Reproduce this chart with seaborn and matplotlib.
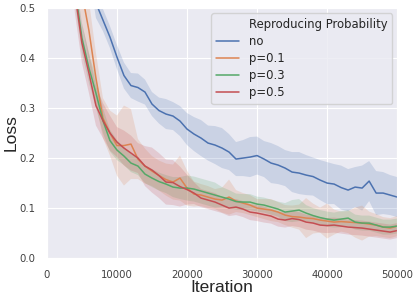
import matplotlib
matplotlib.use("Agg")
import matplotlib.pyplot as plt
from matplotlib.lines import Line2D
import seaborn as sns
import numpy as np
import pandas as pd

# iteration grid (every 1000 steps)
iterations = list(range(0, 51000, 1000))

labels = ["no", "p=0.1", "p=0.3", "p=0.5"]

loss_no = [1.30, 1.15, 1.02, 0.90, 0.79, 0.69, 0.60, 0.51, 0.476, 0.442,
           0.402, 0.365, 0.345, 0.341, 0.332, 0.308, 0.295, 0.288, 0.284, 0.274,
           0.258, 0.248, 0.240, 0.230, 0.226, 0.220, 0.212, 0.198, 0.200, 0.202,
           0.205, 0.198, 0.190, 0.186, 0.180, 0.172, 0.170, 0.166, 0.163, 0.156,
           0.150, 0.148, 0.141, 0.136, 0.142, 0.140, 0.154, 0.130, 0.130, 0.126,
           0.122]
loss_p01 = [1.40, 1.20, 1.00, 0.80, 0.64, 0.53, 0.455, 0.36, 0.28, 0.25,
            0.225, 0.225, 0.228, 0.198, 0.184, 0.174, 0.165, 0.157, 0.152, 0.160,
            0.140, 0.128, 0.126, 0.122, 0.118, 0.116, 0.122, 0.114, 0.110, 0.106,
            0.100, 0.098, 0.096, 0.092, 0.086, 0.083, 0.082, 0.080, 0.079, 0.076,
            0.074, 0.072, 0.073, 0.072, 0.071, 0.070, 0.068, 0.066, 0.062, 0.060,
            0.064]
loss_p03 = [1.30, 1.10, 0.90, 0.70, 0.54, 0.44, 0.38, 0.33, 0.275, 0.235,
            0.216, 0.204, 0.190, 0.184, 0.168, 0.160, 0.153, 0.148, 0.142, 0.140,
            0.140, 0.138, 0.134, 0.130, 0.126, 0.122, 0.118, 0.113, 0.112, 0.112,
            0.108, 0.106, 0.102, 0.098, 0.092, 0.094, 0.096, 0.090, 0.085, 0.081,
            0.078, 0.076, 0.078, 0.080, 0.072, 0.070, 0.070, 0.066, 0.062, 0.062,
            0.064]
loss_p05 = [1.30, 1.10, 0.90, 0.70, 0.53, 0.43, 0.37, 0.305, 0.275, 0.250,
            0.232, 0.220, 0.210, 0.200, 0.184, 0.176, 0.165, 0.152, 0.151, 0.143,
            0.137, 0.130, 0.120, 0.116, 0.112, 0.106, 0.100, 0.102, 0.098, 0.092,
            0.090, 0.087, 0.084, 0.078, 0.076, 0.079, 0.077, 0.072, 0.070, 0.066,
            0.065, 0.066, 0.064, 0.062, 0.061, 0.060, 0.058, 0.056, 0.054, 0.052,
            0.055]

# half width of the shaded band
spread_no = [0.03, 0.03, 0.03, 0.03, 0.03, 0.03, 0.03, 0.03, 0.022, 0.022,
             0.024, 0.026, 0.025, 0.028, 0.025, 0.024, 0.026, 0.030, 0.028, 0.030,
             0.032, 0.034, 0.036, 0.035, 0.038, 0.040, 0.036, 0.034, 0.036, 0.040,
             0.038, 0.036, 0.040, 0.038, 0.036, 0.040, 0.042, 0.040, 0.038, 0.040,
             0.042, 0.040, 0.044, 0.042, 0.040, 0.045, 0.040, 0.044, 0.042, 0.040,
             0.040]
spread_p01 = [0.06, 0.06, 0.06, 0.06, 0.06, 0.06, 0.06, 0.05, 0.04, 0.045,
              0.06, 0.08, 0.07, 0.04, 0.035, 0.03, 0.03, 0.032, 0.035, 0.045,
              0.035, 0.025, 0.022, 0.022, 0.020, 0.025, 0.035, 0.022, 0.020, 0.020,
              0.018, 0.020, 0.022, 0.020, 0.020, 0.022, 0.025, 0.040, 0.030, 0.025,
              0.035, 0.025, 0.020, 0.022, 0.030, 0.035, 0.025, 0.022, 0.020, 0.020,
              0.020]
spread_p03 = [0.03, 0.03, 0.03, 0.03, 0.03, 0.03, 0.03, 0.03, 0.025, 0.022,
              0.020, 0.018, 0.018, 0.018, 0.018, 0.018, 0.018, 0.018, 0.020, 0.022,
              0.025, 0.025, 0.025, 0.025, 0.025, 0.020, 0.018, 0.016, 0.016, 0.016,
              0.015, 0.015, 0.015, 0.015, 0.018, 0.022, 0.022, 0.016, 0.015, 0.015,
              0.015, 0.015, 0.016, 0.016, 0.015, 0.015, 0.015, 0.015, 0.015, 0.015,
              0.015]
spread_p05 = [0.04, 0.04, 0.04, 0.04, 0.04, 0.04, 0.04, 0.04, 0.035, 0.035,
              0.030, 0.035, 0.035, 0.030, 0.040, 0.045, 0.045, 0.045, 0.045, 0.040,
              0.030, 0.022, 0.018, 0.018, 0.018, 0.016, 0.016, 0.016, 0.016, 0.016,
              0.016, 0.016, 0.015, 0.015, 0.015, 0.015, 0.015, 0.015, 0.015, 0.015,
              0.015, 0.015, 0.015, 0.015, 0.015, 0.015, 0.015, 0.015, 0.015, 0.015,
              0.015]

means = [loss_no, loss_p01, loss_p03, loss_p05]
spreads = [spread_no, spread_p01, spread_p03, spread_p05]

sns.set_style("darkgrid")
palette = sns.color_palette("deep")

df = pd.DataFrame({
    "Iteration": iterations * 4,
    "Loss": sum(means, []),
    "Reproducing Probability": sum([[lab] * len(iterations) for lab in labels], []),
})

fig, ax = plt.subplots(figsize=(4.15, 2.97), dpi=100)
fig.subplots_adjust(left=0.113, right=0.957, top=0.973, bottom=0.131)

sns.lineplot(data=df, x="Iteration", y="Loss", hue="Reproducing Probability",
             palette=palette[:4], linewidth=1.1, ax=ax, legend=False)

for i, lab in enumerate(labels):
    m = np.array(means[i])
    s = np.array(spreads[i])
    ax.fill_between(iterations, m - s, m + s, color=palette[i], alpha=0.2, linewidth=0)

ax.set_xlim(0, 50000)
ax.set_ylim(0, 0.5)
ax.set_xticks([0, 10000, 20000, 30000, 40000, 50000])
ax.set_yticks([0.0, 0.1, 0.2, 0.3, 0.4, 0.5])
ax.tick_params(labelsize=7.3, pad=5, colors="0.25")
ax.set_xlabel("Iteration", family="Liberation Sans", fontsize=12.5, labelpad=0)
ax.set_ylabel("Loss", family="Liberation Sans", fontsize=12.5, labelpad=0)

handles = [Line2D([], [], alpha=0)] + [Line2D([], [], color=palette[i], lw=1.1) for i in range(4)]
ax.legend(handles, ["Reproducing Probability"] + labels, loc="upper right",
          fontsize=8.4, labelspacing=0.35, borderaxespad=0.45)

fig.savefig("out.png", dpi=100)
